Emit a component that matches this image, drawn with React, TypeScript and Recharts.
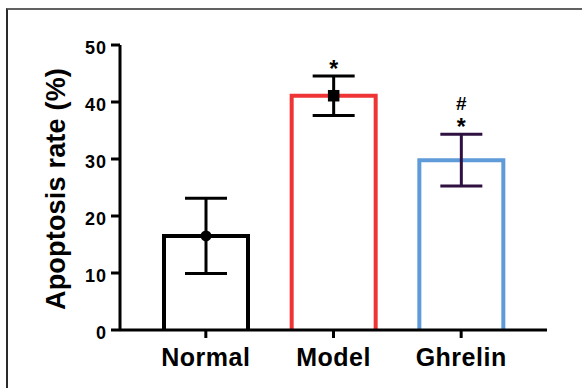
import { BarChart, Bar, XAxis, YAxis, ErrorBar, LabelList, Label } from "recharts";

const groups = ["Normal", "Model", "Ghrelin"];
const means = [16.5, 41.1, 29.8];
const sems = [6.6, 3.45, 4.55];
const yTicks = [0, 10, 20, 30, 40, 50];
const starMarks = ["", "*", "*"];
const hashMarks = ["", "", "#"];
const markers = ["circle", "square", "none"];

const barColors = ["#000000", "#ee3434", "#5f9bd8"];
const font = "'Liberation Sans', Arial, sans-serif";

// Ghrelin's error bar is drawn in dark purple, so it gets its own key
const chartData = groups.map((g, i) => ({
  group: g,
  mean: means[i],
  errBlack: i < 2 ? sems[i] : undefined,
  errPurple: i === 2 ? sems[i] : undefined,
}));

const OpenBar = (props: any) => {
  const { x, y, width, height, index } = props;
  const d = `M${x},${y + height} L${x},${y} L${x + width},${y} L${x + width},${y + height}`;
  return <path d={d} fill="#fff" stroke={barColors[index]} strokeWidth={4} />;
};

const Marks = (props: any) => {
  const { x, y, width, height, index } = props;
  const v = means[index];
  const pxPerUnit = height / v;
  const cx = x + width / 2;
  const errTop = y - sems[index] * pxPerUnit;
  return (
    <g>
      {markers[index] === "circle" && <circle cx={cx} cy={y} r={5.5} fill="#000" />}
      {markers[index] === "square" && (
        <rect x={cx - 5.75} y={y - 5.75} width={11.5} height={11.5} fill="#000" />
      )}
      {starMarks[index] && (
        <text x={cx} y={errTop + 1} textAnchor="middle" fontFamily={font} fontWeight="bold" fontSize={23} fill="#000">
          {starMarks[index]}
        </text>
      )}
      {hashMarks[index] && (
        <text x={cx} y={errTop - 24} textAnchor="middle" fontFamily={font} fontWeight="bold" fontSize={19} fill="#000">
          {hashMarks[index]}
        </text>
      )}
    </g>
  );
};

const YTick = ({ x, y, payload }: any) => (
  <text x={x} y={y} dy={8.5} textAnchor="end" fontFamily={font} fontWeight="bold" fontSize={18} letterSpacing={1} fill="#000">
    {payload.value}
  </text>
);

const XTick = ({ x, y, payload }: any) => (
  <text x={x} y={y} dy="0.71em" textAnchor="middle" fontFamily={font} fontWeight="bold" fontSize={25} letterSpacing={0.5} fill="#000">
    {payload.value}
  </text>
);

const YLabel = () => (
  <text
    x={65}
    y={189}
    transform="rotate(-90 65 189)"
    textAnchor="middle"
    fontFamily={font}
    fontWeight="bold"
    fontSize={27}
    letterSpacing={0.2}
    fill="#000"
  >
    Apoptosis rate (%)
  </text>
);

export default function App() {
  return (
    <div style={{ position: "absolute", left: 0, top: 0, width: 582, height: 388, overflow: "hidden", background: "#fff" }}>
      <div
        style={{
          position: "absolute",
          left: 6,
          top: 8,
          width: 600,
          height: 400,
          borderTop: "2px solid #616161",
          borderLeft: "2px solid #2b2b2b",
        }}
      />
      <div style={{ position: "absolute", left: 0, top: 0 }}>
        <BarChart
          width={582}
          height={388}
          data={chartData}
          margin={{ top: 45, right: 35, bottom: 0, left: 0 }}
          barSize={84}
        >
          <XAxis
            dataKey="group"
            height={58}
            padding={{ left: 22, right: 22 }}
            axisLine={{ stroke: "#000", strokeWidth: 3 }}
            tickLine={{ stroke: "#000", strokeWidth: 3 }}
            tickSize={8}
            tickMargin={10}
            tick={<XTick />}
          />
          <YAxis
            width={120}
            domain={[0, 50]}
            ticks={yTicks}
            axisLine={{ stroke: "#000", strokeWidth: 3 }}
            tickLine={{ stroke: "#000", strokeWidth: 3 }}
            tickSize={9}
            tickMargin={4}
            tick={<YTick />}
          >
            <Label content={<YLabel />} />
          </YAxis>
          <Bar dataKey="mean" shape={<OpenBar />} isAnimationActive={false}>
            <ErrorBar dataKey="errBlack" width={21} strokeWidth={3} stroke="#000" />
            <ErrorBar dataKey="errPurple" width={21} strokeWidth={3} stroke="#2e1141" />
            <LabelList dataKey="mean" content={<Marks />} />
          </Bar>
        </BarChart>
      </div>
    </div>
  );
}
